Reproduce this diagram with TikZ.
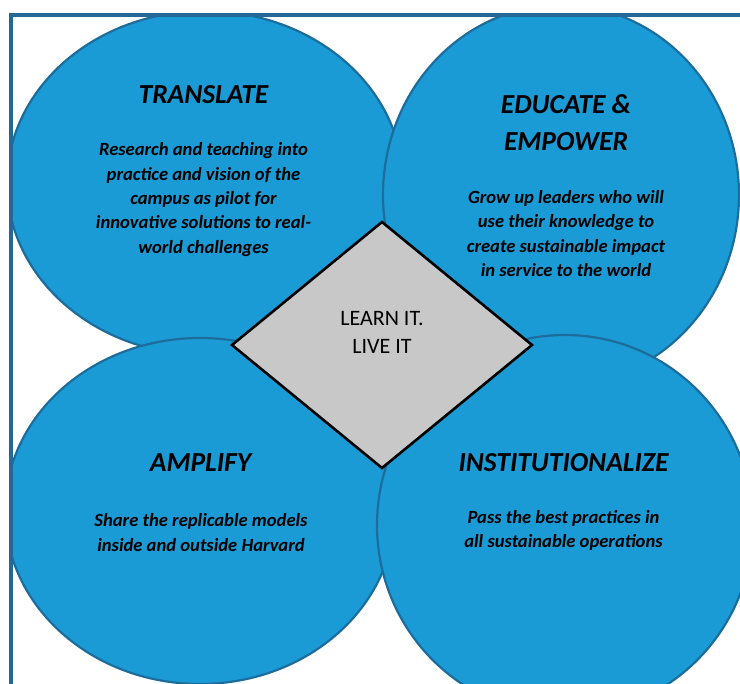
\documentclass[tikz,border=0pt]{standalone}
\usepackage{fontspec}
\setmainfont{Carlito}
\usepackage{tikz}
\usetikzlibrary{shapes.geometric}

\definecolor{frameblue}{RGB}{36,104,152}
\definecolor{discblue}{RGB}{27,155,214}
\definecolor{discline}{RGB}{28,108,156}
\definecolor{hubgray}{RGB}{200,200,200}

\tikzset{
  disc/.style={ellipse, draw=discline, fill=discblue, line width=2.2pt, inner sep=0pt},
  hub/.style={draw=black, fill=hubgray, line width=2.6pt, line join=miter},
  heading/.style={font=\fontsize{27.5}{37}\selectfont\bfseries\itshape, align=center, inner sep=0pt},
  blurb/.style={font=\fontsize{18.6}{24.3}\selectfont\bfseries\itshape, align=center, inner sep=0pt},
  motto/.style={font=\fontsize{22}{28}\selectfont, align=center, inner sep=0pt},
  frameline/.style={draw=frameblue, line width=4pt, line join=miter}
}

\begin{document}
\begin{tikzpicture}[x=1pt, y=-1pt]
\useasboundingbox (0,0) rectangle (740,684);

% the four discs, cut by the frame
\begin{scope}
\clip (11,15) rectangle (740,684);
\draw (205,183) node[disc, minimum width=396, minimum height=344] (translatedisc) {};
\draw (561,195) node[disc, minimum width=356, minimum height=380] (educatedisc) {};
\draw (200,511) node[disc, minimum width=390, minimum height=346] (amplifydisc) {};
\draw (565,525) node[disc, minimum width=376, minimum height=380] (instdisc) {};
\end{scope}

% frame
\draw[frameline] (11,690) -- (11,15) -- (745,15);

% centre diamond
\coordinate (hubtop) at (382,222);
\coordinate (hubright) at (532,345);
\coordinate (hubbottom) at (382,468);
\coordinate (hubleft) at (232,345);
\filldraw[hub] (hubtop) -- (hubright) -- (hubbottom) -- (hubleft) -- cycle;
\draw (382,332) node[motto] (learn) {LEARN IT.\\LIVE IT};

% texts
\draw (203.5,95) node[heading] (translate) {TRANSLATE};
\draw (203.5,199.5) node[blurb] (translatetext) {Research and teaching into\\practice and vision of the\\campus as pilot for\\innovative solutions to real-\\world challenges};

\draw (566,122.5) node[heading] (educate) {EDUCATE \&\\EMPOWER};
\draw (566,233.5) node[blurb] (educatetext) {Grow up leaders who will\\use their knowledge to\\create sustainable impact\\in service to the world};

\draw (200.5,463) node[heading] (amplify) {AMPLIFY};
\draw (201,532.5) node[blurb] (amplifytext) {Share the replicable models\\inside and outside Harvard};

\draw (563.5,463) node[heading] (institutionalize) {INSTITUTIONALIZE};
\draw (563.5,530.5) node[blurb] (insttext) {Pass the best practices in\\all sustainable operations};
\end{tikzpicture}
\end{document}
